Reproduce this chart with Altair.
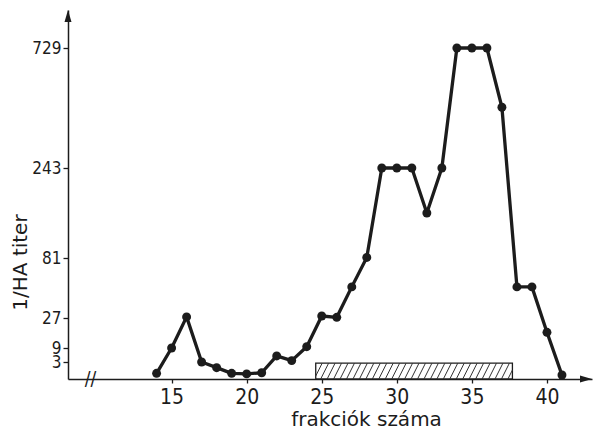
import altair as alt
import pandas as pd

# ---- data ----
fractions = [14, 15, 16, 17, 18, 19, 20, 21, 22, 23, 24, 25, 26, 27,
             28, 29, 30, 31, 32, 33, 34, 35, 36, 37, 38, 39, 40, 41]
titers = [1, 9, 28, 3, 2, 1, 0.9, 1.1, 5.6, 3.6, 9.8, 28.8, 27.6, 55,
          82, 243, 243, 243, 162, 243, 729, 729, 729, 489, 55, 55, 18.4, 0.7]

y_ticks = [3, 9, 27, 81, 243, 729]
x_ticks = [15, 20, 25, 30, 35, 40]

# hatched fraction range (bar)
bar_start, bar_end, bar_top = 24.6, 37.7, 2.8

# ---- scales ----
X_DOMAIN = [8.1, 43.0]
W, H = 524, 369
# hand-drawn titer axis: piecewise scale through the labelled levels
Y_DOMAIN = [0, 3, 9, 27, 81, 243, 729, 1000]
Y_RANGE = [H, H - 17, H - 31, H - 61, H - 121, H - 211, H - 331, 0]

FONT = "DejaVu Sans Condensed"
TFONT = "DejaVu Sans"
INK = "#1c1c1c"

xs = alt.Scale(domain=X_DOMAIN, nice=False, zero=False)
ys = alt.Scale(domain=Y_DOMAIN, range=Y_RANGE, nice=False, zero=False)

df = pd.DataFrame({"frakcio": fractions, "titer": titers})

# hatch lines derived from the bar extent
step, slant = 0.43, 0.53
hatch = []
k = 1
while True:
    xb = bar_start - slant + step * k
    if xb >= bar_end:
        break
    x_s, y_s = xb, 0.0
    x_e, y_e = xb + slant, bar_top
    if x_s < bar_start:
        y_s = (bar_start - xb) / slant * bar_top
        x_s = bar_start
    if x_e > bar_end:
        y_e = (bar_end - xb) / slant * bar_top
        x_e = bar_end
    hatch.append({"x": x_s, "x2": x_e, "y": y_s, "y2": y_e})
    k += 1
hatch_df = pd.DataFrame(hatch)

bar_df = pd.DataFrame({"x": [bar_start], "x2": [bar_end], "y": [0], "y2": [bar_top]})

x_axis = alt.Axis(values=x_ticks, title="frakciók  száma", grid=False,
                  tickSize=4, labelPadding=3, labelFont=FONT, labelFontSize=21,
                  labelColor=INK, titleFont=TFONT, titleFontSize=20,
                  titleFontWeight="normal", titleColor=INK,
                  titleX=298, titleY=46, titleBaseline="alphabetic",
                  titleAnchor="middle", domainColor=INK, tickColor=INK,
                  domainWidth=1.5, tickWidth=1.3)
y_axis = alt.Axis(values=y_ticks, title="1/HA titer", grid=False,
                  tickSize=5, labelPadding=2, labelFont=FONT, labelFontSize=17,
                  labelColor=INK, labelOverlap=False, labelBound=False,
                  titleFont=TFONT, titleFontSize=20, titleFontWeight="normal",
                  titleColor=INK, titleX=-48, titleY=252, titleAngle=-90,
                  titleBaseline="middle", titleAlign="center",
                  domainColor=INK, tickColor=INK, domainWidth=1.5, tickWidth=1.3)

bar = alt.Chart(bar_df).mark_rect(fill="white", stroke=INK, strokeWidth=1.3).encode(
    x=alt.X("x:Q", scale=xs, axis=x_axis),
    x2="x2:Q",
    y=alt.Y("y:Q", scale=ys, axis=y_axis),
    y2="y2:Q",
)

hatch_layer = alt.Chart(hatch_df).mark_rule(color="#333", strokeWidth=1).encode(
    x=alt.X("x:Q", scale=xs),
    x2="x2:Q",
    y=alt.Y("y:Q", scale=ys),
    y2="y2:Q",
)

line = alt.Chart(df).mark_line(color=INK, strokeWidth=3.3, strokeJoin="round").encode(
    x=alt.X("frakcio:Q", scale=xs),
    y=alt.Y("titer:Q", scale=ys),
)
points = alt.Chart(df).mark_circle(color=INK, size=80, opacity=1).encode(
    x=alt.X("frakcio:Q", scale=xs),
    y=alt.Y("titer:Q", scale=ys),
)

# axis arrows and break mark
arrow_df = pd.DataFrame({"x": [X_DOMAIN[0], X_DOMAIN[1]],
                         "y": [Y_DOMAIN[-1], 0],
                         "dir": ["up", "right"]})
up = alt.Chart(arrow_df[arrow_df.dir == "up"]).mark_point(
    shape="M0,0L-0.7,2.4L0.7,2.4Z", filled=True, color=INK, size=100, opacity=1
).encode(x=alt.X("x:Q", scale=xs), y=alt.Y("y:Q", scale=ys))
right = alt.Chart(arrow_df[arrow_df.dir == "right"]).mark_point(
    shape="M0,0L-2.4,-0.7L-2.4,0.7Z", filled=True, color=INK, size=100, opacity=1
).encode(x=alt.X("x:Q", scale=xs), y=alt.Y("y:Q", scale=ys))

brk_df = pd.DataFrame({"x": [9.6], "y": [0], "t": ["//"]})
brk = alt.Chart(brk_df).mark_text(font=FONT, fontSize=19, color=INK,
                                  baseline="middle", align="center").encode(
    x=alt.X("x:Q", scale=xs), y=alt.Y("y:Q", scale=ys), text="t:N")

chart = alt.layer(bar, hatch_layer, line, points, up, right, brk).properties(
    width=W, height=H, autosize="none",
    padding={"left": 68, "top": 10, "right": 1, "bottom": 50},
    background="white",
).configure_view(stroke=None)

chart.save("out.html", embed_options={"renderer": "svg", "actions": False})
